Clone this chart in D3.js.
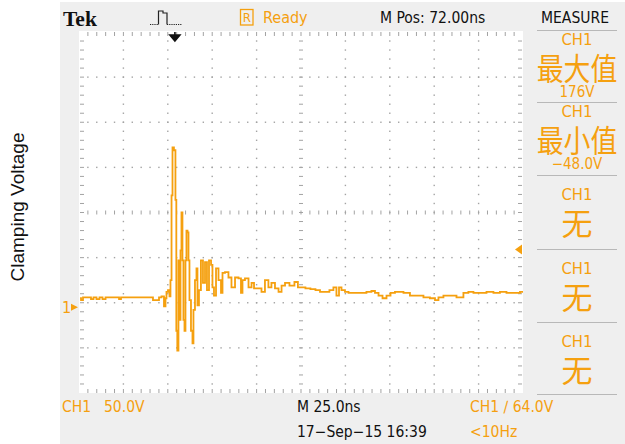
<!DOCTYPE html>
<html>
<head>
<meta charset="utf-8">
<script src="https://cdn.jsdelivr.net/npm/d3@7"></script>
<style>
  body { margin: 0; background: #fff; }
  svg { display: block; }
  .scope { font-family: "DejaVu Sans Condensed", "DejaVu Sans", sans-serif; }
</style>
</head>
<body>
<svg id="chart" width="625" height="444"></svg>
<script>
//Trace samples (time from left edge of screen in ns, volts)
const traceTimeNs = [0.6, 1.7, 2.8, 6.2, 7.3, 9.0, 10.7, 12.4, 14.1, 15.8, 22.0, 23.1, 24.2, 28.7, 41.1, 42.2, 44.5, 45.6, 47.3, 48.4, 49.0, 49.5, 50.7, 51.2, 51.8, 52.4, 52.9, 54.0, 54.6, 55.0, 55.7, 56.3, 56.9, 57.4, 58.0, 58.5, 59.1, 59.7, 60.2, 60.8, 61.4, 61.9, 62.5, 63.6, 64.2, 64.7, 65.9, 66.4, 67.0, 68.1, 69.2, 70.4, 71.5, 72.6, 73.8, 74.9, 75.4, 76.6, 77.7, 79.4, 80.5, 81.1, 83.3, 85.0, 86.7, 89.0, 90.6, 91.8, 92.3, 94.6, 96.3, 98.0, 99.1, 101.9, 103.6, 105.8, 107.5, 109.2, 111.5, 113.2, 114.9, 117.1, 119.9, 122.7, 123.8, 126.1, 128.9, 131.7, 134.6, 136.8, 139.6, 142.4, 144.1, 145.8, 147.0, 148.6, 150.9, 152.6, 156.5, 159.9, 163.8, 165.5, 167.8, 169.5, 172.3, 174.0, 176.8, 179.0, 180.7, 184.7, 188.0, 192.0, 195.9, 199.3, 201.6, 203.2, 207.2, 210.6, 214.5, 218.4, 220.1, 224.1, 227.5, 231.4, 235.3, 238.7, 242.7, 246.6, 250.0];
const traceVolts = [10, 8, 11, 11, 9, 11, 9, 11, 9, 11, 11, 9, 11, 11, 11, 8, 8, 11, 12, 1, 10, 17, 19, 12, 30, 124, 177, 174, 119, -26, -48, 52, -14, 63, 105, 52, -14, -26, 52, 85, 83, 52, 8, -26, -40, -3, 30, 43, 2, 19, 52, 27, 50, 19, 52, 47, 22, 13, 43, 30, 16, 38, 39, 33, 22, 33, 32, 16, 30, 32, 22, 27, 21, 21, 17, 30, 22, 27, 21, 17, 24, 27, 24, 28, 22, 22, 21, 20, 19, 17, 17, 19, 22, 13, 22, 19, 17, 16, 16, 16, 17, 18, 16, 13, 10, 13, 16, 17, 17, 16, 13, 13, 11, 10, 8, 11, 13, 13, 11, 16, 17, 16, 16, 17, 16, 17, 16, 16, 17];

//Readouts
const measureChannel = ["CH1", "CH1", "CH1", "CH1", "CH1"];
const measureNames = ["最大值", "最小值", "无", "无", "无"];
const measureValues = ["176V", "\u221248.0V", "", "", ""];
const voltsPerDiv = 50;
const nsPerDiv = 25;
const triggerLevelV = 64;
const triggerTimeNs = 54;

//Colors
const orange = "#f5a00f";
const dotGray = "#a3a3a3";

const svg = d3.select("#chart");

//Screen geometry: 10 x 8 divisions
const scrLeft = 79, scrRight = 523, scrTop = 32, scrBottom = 393;
const x = d3.scaleLinear().domain([0, 10 * nsPerDiv]).range([scrLeft, scrRight]);
const y = d3.scaleLinear().domain([-1.9 * voltsPerDiv, 6.1 * voltsPerDiv]).range([scrBottom, scrTop]);
const xDiv = d3.scaleLinear().domain([0, 10]).range([scrLeft, scrRight]);
const yDiv = d3.scaleLinear().domain([0, 8]).range([scrTop, scrBottom]);

//Scope frame background
svg.append("rect")
  .attr("x", 60).attr("y", 2)
  .attr("width", 565).attr("height", 442)
  .attr("fill", "#efefef");

//White screen
svg.append("rect")
  .attr("x", scrLeft).attr("y", scrTop - 1)
  .attr("width", scrRight - scrLeft).attr("height", scrBottom - scrTop + 1)
  .attr("fill", "#fff");

//Graticule ------------
var grid = svg.append("g").attr("id", "graticule").attr("fill", dotGray);

//dotted vertical lines
for (let i = 1; i < 10; i++) {
  if (i === 5) continue;
  for (let j = 1; j < 40; j++) {
    grid.append("rect")
      .attr("x", xDiv(i) - 0.7).attr("y", yDiv(j / 5) - 0.7)
      .attr("width", 1.4).attr("height", 1.4);
  }
}
//dotted horizontal lines
for (let k = 1; k < 8; k++) {
  if (k === 4) continue;
  for (let j = 1; j < 50; j++) {
    grid.append("rect")
      .attr("x", xDiv(j / 5) - 0.7).attr("y", yDiv(k) - 0.7)
      .attr("width", 1.4).attr("height", 1.4);
  }
}
//center cross with ticks
for (let j = 1; j < 50; j++) {
  grid.append("rect")
    .attr("x", xDiv(j / 5) - 0.5).attr("y", yDiv(4) - 2)
    .attr("width", 1).attr("height", 4);
  //top and bottom edge ticks
  grid.append("rect")
    .attr("x", xDiv(j / 5) - 0.5).attr("y", scrTop)
    .attr("width", 1).attr("height", 4);
  grid.append("rect")
    .attr("x", xDiv(j / 5) - 0.5).attr("y", scrBottom - 4)
    .attr("width", 1).attr("height", 4);
}
for (let j = 1; j < 40; j++) {
  grid.append("rect")
    .attr("x", xDiv(5) - 2).attr("y", yDiv(j / 5) - 0.5)
    .attr("width", 4).attr("height", 1);
  //left and right edge ticks
  grid.append("rect")
    .attr("x", scrLeft + 1).attr("y", yDiv(j / 5) - 0.5)
    .attr("width", 4).attr("height", 1);
  grid.append("rect")
    .attr("x", scrRight - 5).attr("y", yDiv(j / 5) - 0.5)
    .attr("width", 4).attr("height", 1);
}

//Trace --------------
const traceData = traceTimeNs.map((t, i) => [t, traceVolts[i]]);
const traceLine = d3.line()
  .x((d) => x(d[0]))
  .y((d) => y(d[1]))
  .curve(d3.curveStep);

svg.append("path")
  .datum(traceData)
  .attr("d", traceLine)
  .attr("fill", "none")
  .attr("stroke", orange)
  .attr("stroke-width", 1.8)
  .attr("stroke-linejoin", "miter");

//Markers ----------
//ground marker "1>"
var gnd = svg.append("g").attr("fill", orange);
gnd.append("text")
  .attr("class", "scope")
  .attr("x", 62).attr("y", y(0) + 6)
  .attr("font-size", 16)
  .text("1");
gnd.append("path")
  .attr("d", `M71,${y(0) - 3.5} L78,${y(0)} L71,${y(0) + 3.5} Z`);

//trigger level marker on the right
svg.append("path")
  .attr("d", `M${scrRight - 1},${y(triggerLevelV) - 5} L${scrRight - 8},${y(triggerLevelV)} L${scrRight - 1},${y(triggerLevelV) + 5} Z`)
  .attr("fill", orange);

//trigger position arrow at the top
var tx = x(triggerTimeNs);
svg.append("path")
  .attr("d", `M${tx},${scrTop} V${scrTop + 6} M${tx - 5},${scrTop + 3} H${tx + 5} L${tx},${scrTop + 9} Z`)
  .attr("stroke", "#111")
  .attr("stroke-width", 1.6)
  .attr("fill", "#111");

//Top status bar --------
svg.append("text")
  .attr("x", 63).attr("y", 26)
  .attr("font-family", "Liberation Serif, serif")
  .attr("font-weight", "bold")
  .attr("font-size", 21.5)
  .attr("fill", "#111")
  .text("Tek");

//trigger type icon: dotted baseline either side of the pulse
var icon = svg.append("g").attr("fill", "none").attr("stroke", "#222").attr("stroke-width", 1.2);
icon.append("path").attr("d", "M150,24.5 H158.5").attr("stroke-dasharray", "1.2,1");
icon.append("path").attr("d", "M158.5,24.5 V11 H163 V13 H167 V24.5");
icon.append("path").attr("d", "M167,24.5 H182").attr("stroke-dasharray", "1.2,1");

svg.append("rect")
  .attr("x", 240.5).attr("y", 9.5)
  .attr("width", 12.5).attr("height", 15.5)
  .attr("fill", "none")
  .attr("stroke", orange)
  .attr("stroke-width", 1.3);

var topTexts = [
  { x: 246.8, t: "R", c: orange, a: "middle", s: 13 },
  { x: 263, t: "Ready", c: orange, a: "start", s: 16 },
  { x: 380, t: "M Pos: 72.00ns", c: "#111", a: "start", s: 15.5 },
  { x: 575, t: "MEASURE", c: "#111", a: "middle", s: 15.5 }
];
svg.selectAll(".toptext")
  .data(topTexts)
  .join("text")
  .attr("class", "scope toptext")
  .attr("x", (d) => d.x)
  .attr("y", (d) => (d.t === "R" ? 22 : 23))
  .attr("text-anchor", (d) => d.a)
  .attr("font-size", (d) => d.s)
  .attr("fill", (d) => d.c)
  .text((d) => d.t);

//Measure column -----------
const sepY = [30, 102, 175, 249, 322, 394];
svg.selectAll(".sep")
  .data(sepY)
  .join("line")
  .attr("class", "sep")
  .attr("x1", 537).attr("x2", 617)
  .attr("y1", (d) => d + 0.5).attr("y2", (d) => d + 0.5)
  .attr("stroke", "#b8b8b8")
  .attr("stroke-width", 1.2);

var cells = svg.selectAll(".cell")
  .data(measureNames)
  .join("g")
  .attr("class", "cell scope")
  .attr("fill", orange)
  .attr("text-anchor", "middle");

cells.append("text")
  .attr("x", 577)
  .attr("y", (d, i) => sepY[i] + (i < 2 ? 15 : 25))
  .attr("font-size", 16.5)
  .text((d, i) => measureChannel[i]);

cells.append("text")
  .attr("transform", (d, i) => `translate(577,${sepY[i] + (i < 2 ? 50 : 60)}) scale(${i < 2 ? 0.96 : 1},${i < 2 ? 1.1 : 1})`)
  .attr("font-family", "Noto Sans CJK SC, sans-serif")
  .attr("font-size", (d, i) => (i < 2 ? 28 : 31))
  .text((d) => d);

//numeric readouts only where the scope shows one
cells.filter((d, i) => measureValues[i] !== "")
  .append("text")
  .attr("x", 577)
  .attr("y", (d, i) => sepY[i] + 67)
  .attr("font-size", 15)
  .text((d, i) => measureValues[i]);

//Bottom status --------
var bottomTexts = [
  { x: 62, y: 412, t: "CH1", c: orange },
  { x: 104, y: 412, t: "50.0V", c: orange },
  { x: 297, y: 412, t: "M 25.0ns", c: "#111" },
  { x: 297, y: 437, t: "17\u2212Sep\u221215 16:39", c: "#111" },
  { x: 470, y: 412, t: "CH1 \u2215 64.0V", c: orange },
  { x: 470, y: 437, t: "<10Hz", c: orange }
];
svg.selectAll(".bottext")
  .data(bottomTexts)
  .join("text")
  .attr("class", "scope bottext")
  .attr("x", (d) => d.x)
  .attr("y", (d) => d.y)
  .attr("font-size", 15.5)
  .attr("fill", (d) => d.c)
  .text((d) => d.t);

//Axis title outside the scope picture
svg.append("text")
  .attr("transform", "translate(24,207) rotate(-90)")
  .attr("text-anchor", "middle")
  .attr("font-family", "Liberation Sans, Arial, sans-serif")
  .attr("font-size", 19)
  .attr("fill", "#111")
  .text("Clamping Voltage");
</script>
</body>
</html>
